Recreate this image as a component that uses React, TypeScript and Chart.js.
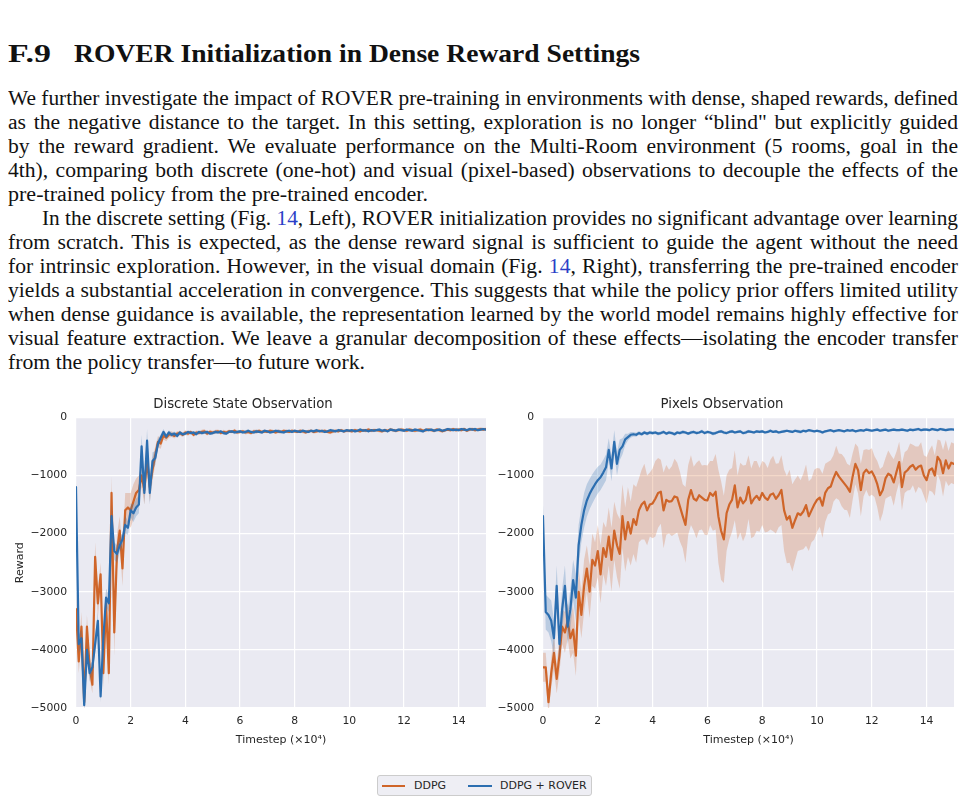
import React, { useEffect, useLayoutEffect, useRef } from "react";
import { Chart, registerables } from "chart.js";

Chart.register(...registerables);

// ---------------- DATA ----------------
// timesteps (x 10^4), 0.0 .. 15.0 step 0.1
const TIMESTEPS: number[] = Array.from({ length: 151 }, (_, i) => i / 10);
const X_TICKS = [0, 2, 4, 6, 8, 10, 12, 14];
const Y_TICKS = [-5000, -4000, -3000, -2000, -1000, 0];

// Left panel: Discrete State Observation
const DISCRETE_DDPG = [
  -3300, -4200, -3600, -4900, -3600, -4300, -4600, -2400, -3200, -2700,
  -4400, -3200, -4400, -1300, -3700, -2300, -1950, -2600, -1600, -1550,
  -1600, -1450, -1300, -1250, -1000, -1250, -750, -1200, -900, -650,
  -420, -450, -310, -350, -300, -290, -320, -280, -270, -300,
  -260, -280, -250, -300, -260, -270, -250, -240, -280, -250,
  -260, -250, -240, -270, -250, -260, -240, -250, -230, -260,
  -250, -240, -260, -250, -270, -240, -250, -230, -250, -240,
  -250, -230, -240, -260, -240, -250, -230, -240, -250, -230,
  -240, -250, -230, -240, -260, -240, -230, -250, -240, -230,
  -240, -230, -250, -260, -240, -230, -240, -220, -240, -230,
  -230, -240, -220, -230, -240, -220, -230, -210, -230, -220,
  -220, -230, -240, -220, -230, -210, -220, -230, -220, -210,
  -220, -230, -210, -220, -230, -220, -210, -230, -220, -210,
  -220, -230, -210, -220, -240, -220, -210, -220, -200, -220,
  -210, -220, -200, -230, -210, -200, -220, -210, -200, -210,
  -200,
];
const DISCRETE_DDPG_SD = [
  250, 200, 250, 150, 200, 200, 150, 250, 250, 200,
  250, 250, 200, 300, 400, 300, 250, 300, 300, 250,
  300, 300, 250, 250, 200, 250, 200, 250, 200, 150,
  100, 90, 70, 60, 50, 50, 45, 40, 40, 40,
  40, 35, 30, 40, 35, 30, 35, 40, 30, 35,
  30, 35, 30, 25, 35, 30, 30, 25, 35, 30,
  30, 25, 35, 30, 25, 30, 35, 25, 30, 30,
  25, 30, 30, 25, 35, 30, 25, 30, 25, 30,
  30, 25, 30, 35, 25, 30, 25, 30, 30, 25,
  25, 30, 25, 30, 35, 25, 30, 25, 30, 25,
  30, 25, 30, 25, 30, 25, 30, 30, 25, 30,
  25, 30, 25, 30, 25, 30, 25, 30, 25, 30,
  30, 25, 30, 25, 30, 25, 30, 25, 30, 25,
  25, 30, 25, 30, 25, 30, 25, 30, 25, 30,
  30, 25, 30, 25, 30, 25, 30, 25, 30, 25,
  25,
];
const DISCRETE_ROVER = [
  -1200, -3900, -3800, -4950, -4000, -4400, -4300, -3900, -3500, -4800,
  -3800, -3100, -3200, -1700, -2300, -2350, -2200, -2100, -1850, -1900,
  -1600, -1650, -1550, -1500, -500, -1300, -400, -1300, -750, -700,
  -450, -350, -250, -330, -260, -300, -280, -320, -260, -290,
  -280, -250, -270, -260, -290, -250, -270, -260, -250, -280,
  -270, -250, -260, -240, -270, -280, -250, -240, -260, -250,
  -240, -260, -250, -230, -250, -260, -240, -250, -260, -230,
  -240, -260, -250, -230, -240, -250, -260, -240, -230, -250,
  -230, -240, -250, -230, -240, -250, -230, -240, -220, -240,
  -230, -250, -240, -220, -230, -240, -220, -230, -240, -220,
  -230, -220, -240, -230, -210, -230, -220, -240, -220, -230,
  -220, -210, -230, -220, -240, -210, -220, -230, -210, -220,
  -230, -210, -220, -230, -210, -220, -230, -240, -210, -220,
  -210, -230, -220, -210, -230, -220, -200, -210, -220, -210,
  -220, -200, -210, -220, -200, -210, -200, -220, -210, -200,
  -210,
];
const DISCRETE_ROVER_SD = [
  100, 150, 150, 100, 150, 150, 100, 150, 150, 100,
  150, 150, 150, 200, 150, 150, 120, 120, 150, 120,
  120, 150, 150, 150, 200, 200, 200, 200, 150, 120,
  80, 60, 50, 45, 40, 40, 35, 35, 30, 30,
  30, 25, 30, 25, 30, 25, 30, 25, 30, 25,
  25, 30, 25, 20, 30, 25, 25, 20, 30, 25,
  25, 20, 30, 25, 20, 25, 30, 20, 25, 25,
  20, 25, 25, 20, 30, 25, 20, 25, 20, 25,
  25, 20, 25, 30, 20, 25, 20, 25, 25, 20,
  20, 25, 20, 25, 30, 20, 25, 20, 25, 20,
  25, 20, 25, 20, 25, 20, 25, 25, 20, 25,
  20, 25, 20, 25, 20, 25, 20, 25, 20, 25,
  25, 20, 25, 20, 25, 20, 25, 20, 25, 20,
  20, 25, 20, 25, 20, 25, 20, 25, 20, 25,
  25, 20, 25, 20, 25, 20, 25, 20, 25, 20,
  20,
];

// Right panel: Pixels Observation
const PIXELS_DDPG = [
  -4300, -4300, -4900, -4400, -4050, -4500, -4100, -3600, -3700, -3500,
  -3800, -3650, -4100, -3000, -3400, -2900, -2600, -3000, -2450, -2550,
  -2300, -2700, -2250, -2400, -2050, -2450, -1950, -2200, -2350, -1700,
  -2100, -1800, -2000, -1750, -1850, -1600, -1500, -1450, -1600, -1500,
  -1480, -1400, -1300, -1280, -1600, -1420, -1450, -1440, -1360, -1380,
  -1540, -1700, -1850, -1420, -1250, -1400, -1430, -1340, -1380, -1420,
  -1430, -1300, -1350, -1280, -1700, -1950, -2100, -1650, -1500, -1420,
  -1170, -1550, -1380, -1480, -1420, -1200, -1480, -1400, -1350, -1420,
  -1300, -1380, -1420, -1330, -1310, -1400, -1340, -1250, -1600, -1760,
  -1700, -1900, -1770, -1650, -1680, -1620, -1510, -1700, -1600, -1500,
  -1420, -1380, -1520, -1300, -1220, -1190, -1050, -940, -1020, -1080,
  -1140, -1200, -1280, -1020, -800, -910, -1250, -960, -900, -960,
  -930, -1020, -1150, -1340, -1250, -1050, -970, -1000, -1120, -940,
  -770, -1200, -950, -910, -850, -820, -900, -850, -830, -1000,
  -1080, -910, -880, -1000, -680, -750, -960, -740, -880, -780,
  -800,
];
const PIXELS_DDPG_SD = [
  250, 250, 200, 250, 300, 250, 300, 300, 350, 300,
  350, 400, 350, 400, 400, 450, 400, 450, 450, 400,
  450, 500, 450, 500, 500, 550, 500, 550, 600, 550,
  550, 600, 550, 600, 650, 550, 600, 650, 600, 550,
  600, 650, 600, 550, 650, 600, 550, 600, 650, 600,
  600, 550, 650, 600, 600, 550, 650, 600, 550, 600,
  600, 550, 600, 650, 800, 850, 750, 650, 600, 550,
  600, 550, 600, 650, 600, 550, 600, 650, 600, 550,
  550, 600, 550, 600, 650, 600, 550, 600, 700, 750,
  800, 750, 700, 650, 600, 650, 700, 600, 550, 600,
  550, 500, 550, 500, 450, 450, 400, 450, 400, 450,
  450, 400, 450, 400, 350, 400, 450, 400, 350, 400,
  400, 350, 400, 450, 400, 350, 400, 350, 400, 350,
  350, 400, 350, 350, 400, 350, 400, 350, 400, 350,
  400, 350, 400, 350, 300, 350, 400, 350, 300, 350,
  350,
];
const PIXELS_ROVER = [
  -1700, -3350, -3400, -3500, -3800, -2900, -3900, -3300, -2900, -3600,
  -3300, -2800, -3100, -2200, -1850, -1600, -1430, -1320, -1230, -1150,
  -1080, -1030, -950, -860, -560, -880, -420, -800, -560, -500,
  -380, -340, -300, -290, -300, -270, -290, -260, -280, -260,
  -270, -260, -280, -270, -250, -280, -260, -270, -290, -260,
  -270, -250, -260, -280, -260, -250, -270, -260, -240, -270,
  -250, -260, -280, -270, -250, -240, -260, -270, -250, -240,
  -260, -250, -240, -270, -260, -240, -250, -260, -240, -250,
  -240, -260, -250, -230, -250, -240, -260, -250, -240, -230,
  -240, -250, -230, -240, -250, -230, -240, -220, -230, -240,
  -230, -240, -260, -240, -230, -220, -240, -230, -220, -230,
  -240, -220, -230, -220, -240, -230, -220, -230, -210, -220,
  -230, -220, -210, -230, -220, -210, -230, -220, -210, -220,
  -220, -210, -220, -230, -210, -220, -210, -200, -220, -210,
  -210, -220, -200, -210, -220, -200, -210, -220, -210, -205,
  -210,
];
const PIXELS_ROVER_SD = [
  200, 300, 300, 350, 300, 350, 300, 350, 350, 300,
  350, 350, 400, 350, 300, 300, 280, 260, 250, 240,
  230, 220, 220, 220, 200, 220, 200, 200, 180, 140,
  100, 60, 50, 40, 35, 35, 30, 30, 30, 30,
  30, 25, 30, 25, 30, 25, 30, 25, 30, 25,
  25, 30, 25, 20, 30, 25, 25, 20, 30, 25,
  25, 20, 30, 25, 20, 25, 30, 20, 25, 25,
  20, 25, 25, 20, 30, 25, 20, 25, 20, 25,
  25, 20, 25, 30, 20, 25, 20, 25, 25, 20,
  20, 25, 20, 25, 30, 20, 25, 20, 25, 20,
  25, 20, 25, 20, 25, 20, 25, 25, 20, 25,
  20, 25, 20, 25, 20, 25, 20, 25, 20, 25,
  25, 20, 25, 20, 25, 20, 25, 20, 25, 20,
  20, 25, 20, 25, 20, 25, 20, 25, 20, 25,
  25, 20, 25, 20, 25, 20, 25, 20, 25, 20,
  20,
];

// ---------------- TEXT ----------------
type Seg = string | { link: string };
const HEADING_NUM = "F.9";
const HEADING_TEXT = "ROVER Initialization in Dense Reward Settings";
// width: target rendered width of the line (full measure = 950)
const LINES: { segs: Seg[]; indent: number; justify: boolean; width: number }[] = [
  { segs: ["We further investigate the impact of ROVER pre-training in environments with dense, shaped rewards, defined"], indent: 0, justify: true, width: 950 },
  { segs: ["as the negative distance to the target. In this setting, exploration is no longer \u201cblind\" but explicitly guided"], indent: 0, justify: true, width: 950 },
  { segs: ["by the reward gradient. We evaluate performance on the Multi-Room environment (5 rooms, goal in the"], indent: 0, justify: true, width: 950 },
  { segs: ["4th), comparing both discrete (one-hot) and visual (pixel-based) observations to decouple the effects of the"], indent: 0, justify: true, width: 950 },
  { segs: ["pre-trained policy from the pre-trained encoder."], indent: 0, justify: false, width: 420 },
  { segs: ["In the discrete setting (Fig. ", { link: "14" }, ", Left), ROVER initialization provides no significant advantage over learning"], indent: 34, justify: true, width: 916 },
  { segs: ["from scratch. This is expected, as the dense reward signal is sufficient to guide the agent without the need"], indent: 0, justify: true, width: 950 },
  { segs: ["for intrinsic exploration. However, in the visual domain (Fig. ", { link: "14" }, ", Right), transferring the pre-trained encoder"], indent: 0, justify: true, width: 950 },
  { segs: ["yields a substantial acceleration in convergence. This suggests that while the policy prior offers limited utility"], indent: 0, justify: true, width: 950 },
  { segs: ["when dense guidance is available, the representation learned by the world model remains highly effective for"], indent: 0, justify: true, width: 950 },
  { segs: ["visual feature extraction. We leave a granular decomposition of these effects\u2014isolating the encoder transfer"], indent: 0, justify: true, width: 950 },
  { segs: ["from the policy transfer\u2014to future work."], indent: 0, justify: false, width: 357 },
];

// ---------------- STYLE ----------------
const ORANGE = "#cf6529";
const ORANGE_BAND = "rgba(207,101,41,0.25)";
const BLUE = "#2c6eb0";
const BLUE_BAND = "rgba(44,110,176,0.25)";
const SANS = "'DejaVu Sans', sans-serif";
const INK = "#262626";

const bgPlugin = {
  id: "plotBg",
  beforeDraw(chart: any) {
    const { ctx, chartArea } = chart;
    if (!chartArea) return;
    ctx.save();
    ctx.fillStyle = "#EAEAF2";
    ctx.fillRect(chartArea.left, chartArea.top, chartArea.right - chartArea.left, chartArea.bottom - chartArea.top);
    ctx.restore();
  },
};

function makeConfig(p: {
  title: string;
  orange: number[];
  orangeSd: number[];
  blue: number[];
  blueSd: number[];
  yTitle: boolean;
  yWidth: number;
  padRight: number;
}): any {
  const pts = (arr: number[]) => arr.map((y, i) => ({ x: TIMESTEPS[i], y }));
  const lo = (m: number[], s: number[]) => m.map((v, i) => v - s[i]);
  const hi = (m: number[], s: number[]) => m.map((v, i) => v + s[i]);
  const edge = { borderColor: "rgba(0,0,0,0)", borderWidth: 1, pointRadius: 0 };
  const line = { borderWidth: 2.2, pointRadius: 0, fill: false, borderJoinStyle: "round", borderCapStyle: "round" };
  return {
    type: "line",
    data: {
      datasets: [
        { label: "DDPG low", data: pts(lo(p.orange, p.orangeSd)), ...edge, fill: false, order: 3 },
        { label: "DDPG high", data: pts(hi(p.orange, p.orangeSd)), ...edge, backgroundColor: ORANGE_BAND, fill: { target: 0 }, order: 3 },
        { label: "DDPG", data: pts(p.orange), borderColor: ORANGE, ...line, order: 2 },
        { label: "ROVER low", data: pts(lo(p.blue, p.blueSd)), ...edge, fill: false, order: 1 },
        { label: "ROVER high", data: pts(hi(p.blue, p.blueSd)), ...edge, backgroundColor: BLUE_BAND, fill: { target: 3 }, order: 1 },
        { label: "DDPG + ROVER", data: pts(p.blue), borderColor: BLUE, ...line, order: 0 },
      ],
    },
    options: {
      animation: false,
      responsive: false,
      devicePixelRatio: 1,
      layout: { padding: { left: 0, right: p.padRight, top: 0, bottom: 0 } },
      plugins: {
        legend: { display: false },
        tooltip: { enabled: false },
        title: {
          display: true,
          text: p.title,
          color: INK,
          font: { family: SANS, size: 13.3, weight: "normal" },
          padding: { top: 7, bottom: 4.4 },
        },
      },
      scales: {
        x: {
          type: "linear",
          min: 0,
          max: 15,
          grid: { color: "#ffffff", lineWidth: 1.2, drawTicks: false },
          border: { display: false },
          afterBuildTicks: (s: any) => {
            s.ticks = X_TICKS.map((v) => ({ value: v }));
          },
          ticks: {
            color: INK,
            font: { family: SANS, size: 10.8 },
            padding: 7,
            maxRotation: 0,
            autoSkip: false,
            callback: (v: any) => String(v),
          },
          title: {
            display: true,
            text: "Timestep (\u00d710\u2074)",
            color: INK,
            font: { family: SANS, size: 11 },
            padding: { top: 0, bottom: 3.5 },
          },
          afterFit: (s: any) => {
            s.height = 42;
          },
        },
        y: {
          type: "linear",
          min: -5000,
          max: 0,
          grid: { color: "#ffffff", lineWidth: 1.2, drawTicks: false },
          border: { display: false },
          afterBuildTicks: (s: any) => {
            s.ticks = Y_TICKS.map((v) => ({ value: v }));
          },
          ticks: {
            color: INK,
            font: { family: SANS, size: 10.8 },
            padding: 9,
            callback: (v: any) => (v < 0 ? "\u2212" + Math.abs(v) : String(v)),
          },
          title: {
            display: p.yTitle,
            text: "Reward",
            color: INK,
            font: { family: SANS, size: 11 },
            padding: { top: 13.4, bottom: 0 },
          },
          afterFit: (s: any) => {
            s.width = p.yWidth;
          },
        },
      },
    },
    plugins: [bgPlugin],
  };
}

function fitSpan(el: HTMLElement | null, target: number, justify: boolean, maxScale: number) {
  if (!el) return;
  el.style.wordSpacing = "0px";
  el.style.transform = "none";
  const w = el.getBoundingClientRect().width;
  if (w <= 0) return;
  const spaces = ((el.textContent || "").match(/ /g) || []).length;
  let s = target / w;
  if (justify && s > maxScale) s = maxScale;
  el.style.transform = `scaleX(${s})`;
  if (justify && spaces > 0) {
    const rest = target - w * s;
    if (rest > 0) el.style.wordSpacing = rest / spaces / s + "px";
  }
}

export default function App() {
  const leftRef = useRef<HTMLCanvasElement | null>(null);
  const rightRef = useRef<HTMLCanvasElement | null>(null);
  const spanRefs = useRef<(HTMLSpanElement | null)[]>([]);
  const numRef = useRef<HTMLSpanElement | null>(null);
  const headRef = useRef<HTMLSpanElement | null>(null);

  useLayoutEffect(() => {
    LINES.forEach((ln, i) => fitSpan(spanRefs.current[i], ln.width, ln.justify, 1.08));
    fitSpan(numRef.current, 43, false, 2);
    fitSpan(headRef.current, 566, false, 2);
  }, []);

  useEffect(() => {
    const left = new Chart(
      leftRef.current as HTMLCanvasElement,
      makeConfig({
        title: "Discrete State Observation",
        orange: DISCRETE_DDPG,
        orangeSd: DISCRETE_DDPG_SD,
        blue: DISCRETE_ROVER,
        blueSd: DISCRETE_ROVER_SD,
        yTitle: true,
        yWidth: 76,
        padRight: 4,
      })
    );
    const right = new Chart(
      rightRef.current as HTMLCanvasElement,
      makeConfig({
        title: "Pixels Observation",
        orange: PIXELS_DDPG,
        orangeSd: PIXELS_DDPG_SD,
        blue: PIXELS_ROVER,
        blueSd: PIXELS_ROVER_SD,
        yTitle: false,
        yWidth: 53,
        padRight: 11,
      })
    );
    return () => {
      left.destroy();
      right.destroy();
    };
  }, []);

  const serif = "'Liberation Serif', 'DejaVu Serif', serif";

  return (
    <div style={{ position: "absolute", left: 0, top: 0, width: 965, height: 803, overflow: "hidden", background: "#fff" }}>
      <div style={{ position: "absolute", left: 8, top: 39, fontFamily: serif, fontWeight: "bold", fontSize: 25, lineHeight: "30px", color: "#111", whiteSpace: "nowrap" }}>
        <span ref={numRef} style={{ display: "inline-block", transformOrigin: "left center" }}>{HEADING_NUM}</span>
        <span ref={headRef} style={{ position: "absolute", left: 66, display: "inline-block", transformOrigin: "left center" }}>{HEADING_TEXT}</span>
      </div>
      <div style={{ position: "absolute", left: 0, top: 86, width: 965, fontFamily: serif, fontSize: 20, lineHeight: "24px", color: "#111" }}>
        {LINES.map((ln, i) => (
          <div key={i} style={{ height: 24, whiteSpace: "nowrap", paddingLeft: 8 + ln.indent }}>
            <span
              ref={(el) => {
                spanRefs.current[i] = el;
              }}
              style={{ display: "inline-block", whiteSpace: "nowrap", transformOrigin: "left center" }}
            >
              {ln.segs.map((s, j) =>
                typeof s === "string" ? (
                  <React.Fragment key={j}>{s}</React.Fragment>
                ) : (
                  <span key={j} style={{ color: "#2b3fc7" }}>{s.link}</span>
                )
              )}
            </span>
          </div>
        ))}
      </div>
      <canvas ref={leftRef} width={490} height={360} style={{ position: "absolute", left: 0, top: 390 }} />
      <canvas ref={rightRef} width={475} height={360} style={{ position: "absolute", left: 490, top: 390 }} />
      <div
        style={{
          position: "absolute",
          left: 377,
          top: 775,
          width: 213,
          height: 19,
          border: "1px solid #cccccc",
          borderRadius: 3,
          background: "#eeeef4",
          fontFamily: SANS,
          fontSize: 11,
          color: INK,
        }}
      >
        <div style={{ position: "absolute", left: 4, top: 9, width: 23, height: 2, background: ORANGE }} />
        <div style={{ position: "absolute", left: 36, top: 2, lineHeight: "15px" }}>DDPG</div>
        <div style={{ position: "absolute", left: 90, top: 9, width: 24, height: 2, background: BLUE }} />
        <div style={{ position: "absolute", left: 122, top: 2, lineHeight: "15px", whiteSpace: "nowrap" }}>DDPG + ROVER</div>
      </div>
    </div>
  );
}
